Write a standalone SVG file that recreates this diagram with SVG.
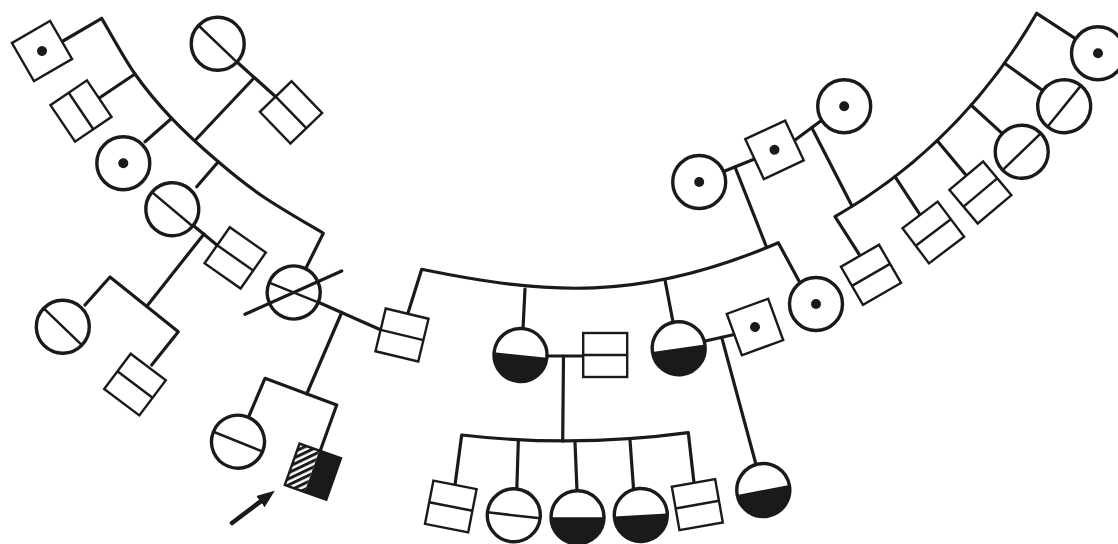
<svg xmlns="http://www.w3.org/2000/svg" xmlns:xlink="http://www.w3.org/1999/xlink" width="1118" height="544" viewBox="0 0 1118 544">
<style>
.ln{fill:none;stroke:#1a1a1a;stroke-width:3.2;stroke-linejoin:round;stroke-linecap:round}
.c{fill:#fff;stroke:#1a1a1a;stroke-width:3.4}
.s{fill:#fff;stroke:#1a1a1a;stroke-width:2.4}
.bar{stroke:#1a1a1a;stroke-width:2.5;fill:none}
.f{fill:#1a1a1a}
</style>
<defs>
<circle id="circ" r="26.5" class="c"/>
<rect id="sq" x="-22" y="-22" width="44" height="44" class="s"/>
<g id="cbar"><use href="#circ"/><line x1="-26.5" y1="0" x2="26.5" y2="0" class="bar"/></g>
<g id="sbar"><use href="#sq"/><line x1="-22" y1="0" x2="22" y2="0" class="bar"/></g>
<g id="cdot"><use href="#circ"/><circle r="5" class="f"/></g>
<g id="sdot"><use href="#sq"/><circle r="5" class="f"/></g>
<g id="chalf"><use href="#circ"/><path d="M-26.5,0 A26.5,26.5 0 0 0 26.5,0 Z" class="f"/></g>
<pattern id="hatch" width="5.5" height="5.5" patternUnits="userSpaceOnUse" patternTransform="rotate(-45)"><rect width="5.5" height="5.5" fill="#fff"/><rect width="5.5" height="3" fill="#1a1a1a"/></pattern>
<marker id="arrow" viewBox="0 0 18 14" refX="2" refY="7" markerWidth="18" markerHeight="14" markerUnits="userSpaceOnUse" orient="auto"><path d="M0,0 L18,7 L0,14 Z" fill="#1a1a1a"/></marker>
</defs>
<rect width="1118" height="544" fill="#fff"/>
<g id="connectors" class="ln">
<path d="M63,41 L101.7,18.3 C107.3,27.6 123.3,57.3 135,74 C146.7,90.7 157.8,103.7 171.7,118.3 C185.6,132.9 203,148.6 218.3,161.7 C233.6,174.8 245.8,184.8 263.3,196.7 C280.8,208.6 313.3,227.2 323.3,233.3 L305,270"/>
<line x1="135" y1="74" x2="100" y2="97.5"/>
<line x1="171.7" y1="118.3" x2="145" y2="141.7"/>
<line x1="237" y1="62" x2="276" y2="97"/>
<line x1="254" y1="78" x2="195" y2="140.5"/>
<line x1="218.3" y1="161.7" x2="196.7" y2="186.7"/>
<line x1="193.3" y1="225.4" x2="217.5" y2="245.5"/>
<line x1="204" y1="234" x2="147" y2="306"/>
<path d="M85,305 L110,277 L178.3,331.7 L151.7,365"/>
<line x1="318.4" y1="302.2" x2="381" y2="330"/>
<line x1="341.7" y1="312.5" x2="306.7" y2="394"/>
<path d="M249,416 L265,378.3 L336.7,405 L320.5,450"/>
<path d="M408,313 L421.7,269.3 C545,294.5 640,302.5 778.3,242.7 L799,281"/>
<line x1="525" y1="289" x2="523" y2="329"/>
<line x1="665" y1="280" x2="673" y2="322"/>
<line x1="547" y1="356" x2="583" y2="356"/>
<line x1="563.5" y1="356" x2="562.7" y2="441"/>
<path d="M455,485 L461.7,435 Q575,448 688.3,432.7 L694,483"/>
<line x1="518.3" y1="441.5" x2="516.8" y2="489"/>
<line x1="575" y1="442" x2="577" y2="491"/>
<line x1="630" y1="440" x2="633.5" y2="488.5"/>
<line x1="704.2" y1="341.2" x2="734.3" y2="334.5"/>
<line x1="721.7" y1="337.3" x2="756" y2="464.5"/>
<line x1="723.6" y1="171.6" x2="754.6" y2="159.1"/>
<line x1="735" y1="167" x2="766.7" y2="247.5"/>
<line x1="794.4" y1="140.5" x2="821.7" y2="120.2"/>
<line x1="811.7" y1="127.6" x2="852" y2="206"/>
<path d="M860,255.7 L835,216.7 Q961.4,143.7 1036.7,13.3 L1075.8,38.8"/>
<line x1="895" y1="176.6" x2="920.1" y2="214.9"/>
<line x1="937.5" y1="141" x2="966.3" y2="175.6"/>
<line x1="971" y1="105" x2="1002.3" y2="133.6"/>
<line x1="1004.5" y1="63.2" x2="1042.8" y2="90.6"/>
<line x1="232" y1="523" x2="262" y2="500.4" stroke-width="4.5" marker-end="url(#arrow)"/>
</g>
<g id="nA" transform="translate(42,51) rotate(-30)"><use href="#sdot"/></g>
<g id="nB" transform="translate(81,111) rotate(56)"><use href="#sbar"/></g>
<g id="nC" transform="translate(123.3,163.3)"><use href="#cdot"/></g>
<g id="nD" transform="translate(217.7,43.8) rotate(43.7)"><use href="#cbar"/></g>
<g id="nE" transform="translate(291,112.4) rotate(46)"><use href="#sbar"/></g>
<g id="nF" transform="translate(172.3,209.2) rotate(40)"><use href="#cbar"/></g>
<g id="nG" transform="translate(235.2,257.9) rotate(35)"><use href="#sbar"/></g>
<g id="nH" transform="translate(62.8,326.7) rotate(44)"><use href="#cbar"/></g>
<g id="nI" transform="translate(135,384.6) rotate(37)"><use href="#sbar"/></g>
<g id="nJ"><g transform="translate(293.7,292.5) rotate(22)"><use href="#cbar"/></g><line x1="245" y1="314.3" x2="341.7" y2="271" class="ln"/></g>
<g id="nK" transform="translate(402,335) rotate(13.5)"><use href="#sbar"/></g>
<g id="nGG" transform="translate(238,441.7) rotate(22)"><use href="#cbar"/></g>
<g id="nPR" transform="translate(312.9,471.7) rotate(19.5)"><rect x="-22" y="-22" width="21" height="44" fill="url(#hatch)"/><rect x="-1" y="-22" width="23" height="44" class="f"/><rect x="-22" y="-22" width="44" height="44" fill="none" stroke="#1a1a1a" stroke-width="2.4"/></g>
<g id="nO" transform="translate(520.5,355) rotate(6)"><use href="#chalf"/></g>
<g id="nQ" transform="translate(605.2,355)"><use href="#sbar"/></g>
<g id="nP" transform="translate(678.7,348.3) rotate(-8)"><use href="#chalf"/></g>
<g id="nX" transform="translate(755,327) rotate(-20)"><use href="#sdot"/></g>
<g id="nN" transform="translate(816,304)"><use href="#cdot"/></g>
<g id="nL" transform="translate(699.2,182)"><use href="#cdot"/></g>
<g id="nM" transform="translate(774.5,149.8) rotate(-25)"><use href="#sdot"/></g>
<g id="nY" transform="translate(844.2,106.2)"><use href="#cdot"/></g>
<g id="nR" transform="translate(450.8,506.5) rotate(11)"><use href="#sbar"/></g>
<g id="nS" transform="translate(513.8,515.3) rotate(6.5)"><use href="#cbar"/></g>
<g id="nT" transform="translate(577.5,517.3)"><use href="#chalf"/></g>
<g id="nU" transform="translate(640.8,515) rotate(-3)"><use href="#chalf"/></g>
<g id="nV" transform="translate(697.3,504.6) rotate(-10)"><use href="#sbar"/></g>
<g id="nW" transform="translate(763.3,490) rotate(-11)"><use href="#chalf"/></g>
<g id="nZ" transform="translate(871,274.8) rotate(-30)"><use href="#sbar"/></g>
<g id="nAA" transform="translate(933.3,232.5) rotate(-37)"><use href="#sbar"/></g>
<g id="nBB" transform="translate(980.4,192.5) rotate(-40)"><use href="#sbar"/></g>
<g id="nCC" transform="translate(1021.7,151.7) rotate(-44)"><use href="#cbar"/></g>
<g id="nDD" transform="translate(1064.2,106.2) rotate(-51)"><use href="#cbar"/></g>
<g id="nEE" transform="translate(1098,53.3)"><use href="#cdot"/></g>
</svg>
